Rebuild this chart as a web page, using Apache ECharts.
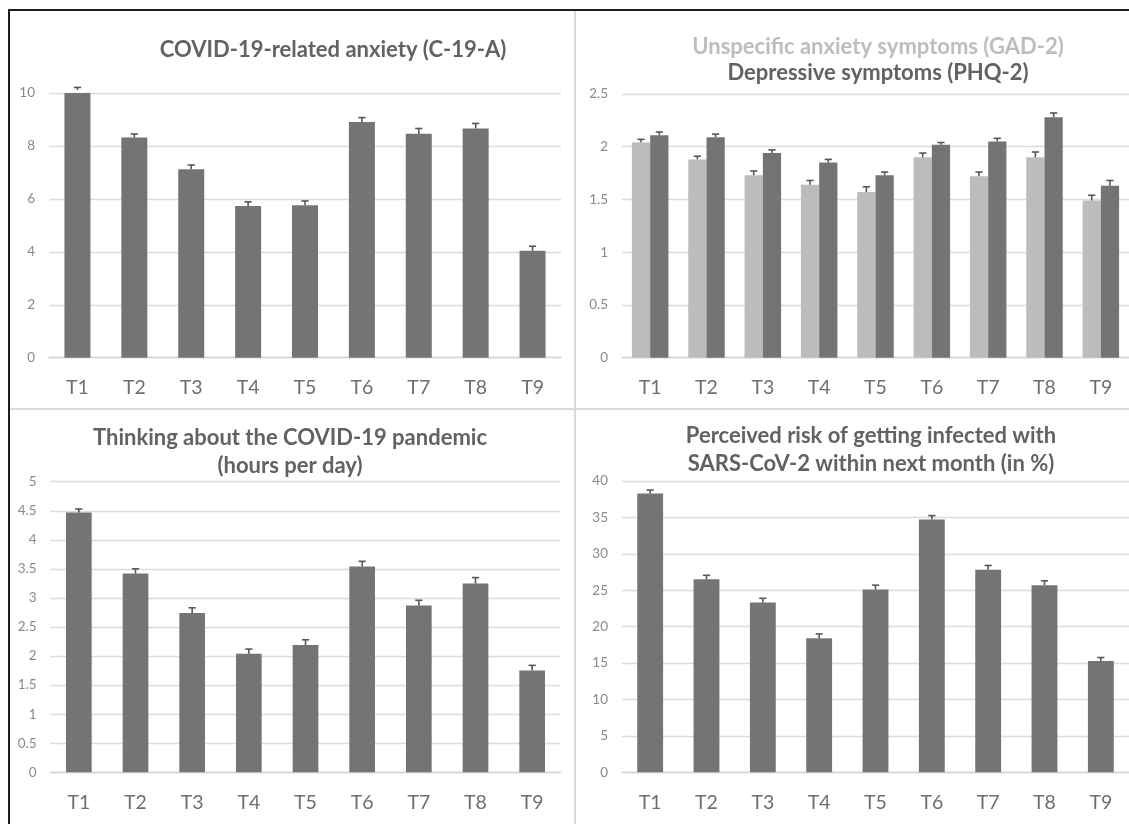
<!DOCTYPE html>
<html>
<head>
<meta charset="utf-8">
<script src="https://cdn.jsdelivr.net/npm/echarts@6/dist/echarts.min.js"></script>
<style>
  html, body { margin: 0; padding: 0; background: #ffffff; }
  #chart { width: 1129px; height: 824px; }
</style>
</head>
<body>
<div id="chart"></div>
<script>
// Measurement waves
const waves = ['T1', 'T2', 'T3', 'T4', 'T5', 'T6', 'T7', 'T8', 'T9'];

// COVID-19-related anxiety (C-19-A): means and standard errors
const c19aMean = [10.11, 8.32, 7.12, 5.73, 5.76, 8.90, 8.46, 8.66, 4.04];
const c19aErr  = [0.10, 0.13, 0.16, 0.16, 0.16, 0.17, 0.20, 0.19, 0.17];

// Unspecific anxiety symptoms (GAD-2)
const gadMean = [2.04, 1.88, 1.73, 1.64, 1.57, 1.90, 1.72, 1.90, 1.49];
const gadErr  = [0.03, 0.03, 0.04, 0.04, 0.05, 0.04, 0.04, 0.05, 0.05];

// Depressive symptoms (PHQ-2)
const phqMean = [2.11, 2.09, 1.94, 1.85, 1.73, 2.02, 2.05, 2.28, 1.63];
const phqErr  = [0.03, 0.03, 0.03, 0.03, 0.03, 0.02, 0.03, 0.04, 0.05];

// Thinking about the COVID-19 pandemic (hours per day)
const hoursMean = [4.47, 3.42, 2.74, 2.04, 2.19, 3.54, 2.87, 3.25, 1.75];
const hoursErr  = [0.06, 0.08, 0.09, 0.08, 0.09, 0.09, 0.09, 0.10, 0.09];

// Perceived risk of infection within next month (in %)
const riskMean = [38.3, 26.5, 23.3, 18.4, 25.1, 34.7, 27.8, 25.7, 15.3];
const riskErr  = [0.46, 0.55, 0.59, 0.60, 0.60, 0.55, 0.60, 0.60, 0.46];

// Axis scales
const yScales = [
  { min: 0, max: 10, interval: 2 },
  { min: 0, max: 2.5, interval: 0.5 },
  { min: 0, max: 5, interval: 0.5 },
  { min: 0, max: 40, interval: 5 }
];

const DARK = '#747474';
const LIGHT = '#bcbcbc';
const ERR = '#575757';
const TITLE = '#626262';
const FONT = 'Lato, "Open Sans", sans-serif';

const grids = [
  { left: 49,  top: 93,  width: 512, height: 264.7 },
  { left: 622, top: 94,  width: 509, height: 263.7 },
  { left: 50.5, top: 481.7, width: 510, height: 290.6 },
  { left: 622, top: 481, width: 510, height: 291.3 }
];

function xAxisFor(i) {
  return {
    type: 'category', gridIndex: i, data: waves,
    axisLine: { lineStyle: { color: '#d6d6d6', width: 1.3 } },
    axisTick: { show: false },
    axisLabel: { color: '#6e6e6e', fontSize: 19.5, fontFamily: FONT, margin: 20, lineHeight: 20 }
  };
}

function yAxisFor(i) {
  return Object.assign({
    type: 'value', gridIndex: i,
    axisLine: { show: false },
    axisTick: { show: false },
    splitLine: { lineStyle: { color: '#dcdcdc', width: 1.3 } },
    axisLabel: { color: '#8a8a8a', fontSize: 13.5, fontFamily: FONT, margin: 14 }
  }, yScales[i]);
}

function barSeries(i, values, color, width) {
  return {
    type: 'bar', xAxisIndex: i, yAxisIndex: i, data: values,
    barWidth: width, barGap: '0%',
    itemStyle: { color: color }, silent: true, z: 2
  };
}

// Upper error bar with a short cap, drawn at a fractional offset of the category band
function errorSeries(i, means, errs, offsetFrac) {
  return {
    type: 'custom', xAxisIndex: i, yAxisIndex: i, z: 5, silent: true,
    data: means.map((m, k) => [k, m, m + errs[k]]),
    encode: { x: 0, y: [1, 2] },
    renderItem: function (params, api) {
      const k = api.value(0);
      const base = api.coord([k, api.value(1)]);
      const top = api.coord([k, api.value(2)]);
      const band = api.size([1, 0])[0];
      const cx = base[0] + band * offsetFrac;
      const half = 3.6;
      const st = { stroke: ERR, lineWidth: 1.6 };
      return {
        type: 'group',
        children: [
          { type: 'line', shape: { x1: cx, y1: base[1], x2: cx, y2: top[1] }, style: st },
          { type: 'line', shape: { x1: cx - half, y1: top[1], x2: cx + half, y2: top[1] }, style: st }
        ]
      };
    }
  };
}

function titleText(x, y, text, color) {
  return {
    type: 'text', x: x, y: y, silent: true,
    style: {
      text: text, fill: color || TITLE,
      font: 'bold 22px ' + FONT,
      textAlign: 'center', textVerticalAlign: 'middle'
    }
  };
}

const chart = echarts.init(document.getElementById('chart'), null, { renderer: 'canvas' });

chart.setOption({
  backgroundColor: '#ffffff',
  animation: false,
  grid: grids,
  xAxis: [0, 1, 2, 3].map(xAxisFor),
  yAxis: [0, 1, 2, 3].map(yAxisFor),
  series: [
    barSeries(0, c19aMean, DARK, '45.7%'),
    errorSeries(0, c19aMean, c19aErr, 0),

    barSeries(1, gadMean, LIGHT, '32.4%'),
    barSeries(1, phqMean, DARK, '32.4%'),
    errorSeries(1, gadMean, gadErr, -0.162),
    errorSeries(1, phqMean, phqErr, 0.162),

    barSeries(2, hoursMean, DARK, '45.3%'),
    errorSeries(2, hoursMean, hoursErr, 0),

    barSeries(3, riskMean, DARK, '45.9%'),
    errorSeries(3, riskMean, riskErr, 0)
  ],
  graphic: [
    // panel dividers
    { type: 'line', silent: true, shape: { x1: 575, y1: 11, x2: 575, y2: 824 }, style: { stroke: '#dadada', lineWidth: 2 } },
    { type: 'line', silent: true, shape: { x1: 10, y1: 409, x2: 1129, y2: 409 }, style: { stroke: '#dadada', lineWidth: 2 } },
    // outer frame
    { type: 'line', silent: true, shape: { x1: 9, y1: 9, x2: 9, y2: 824 }, style: { stroke: '#1e1e1e', lineWidth: 2 } },
    { type: 'line', silent: true, shape: { x1: 8, y1: 10, x2: 1129, y2: 10 }, style: { stroke: '#1e1e1e', lineWidth: 2 } },
    // titles
    titleText(333, 50, 'COVID-19-related anxiety (C-19-A)'),
    titleText(878, 46.7, 'Unspecific anxiety symptoms (GAD-2)', '#bdbdbd'),
    titleText(878, 73.3, 'Depressive symptoms (PHQ-2)'),
    titleText(290, 438.3, 'Thinking about the COVID-19 pandemic'),
    titleText(290, 466, '(hours per day)'),
    titleText(871, 435.7, 'Perceived risk of getting infected with'),
    titleText(871, 464.3, 'SARS-CoV-2 within next month (in %)')
  ]
});
</script>
</body>
</html>
